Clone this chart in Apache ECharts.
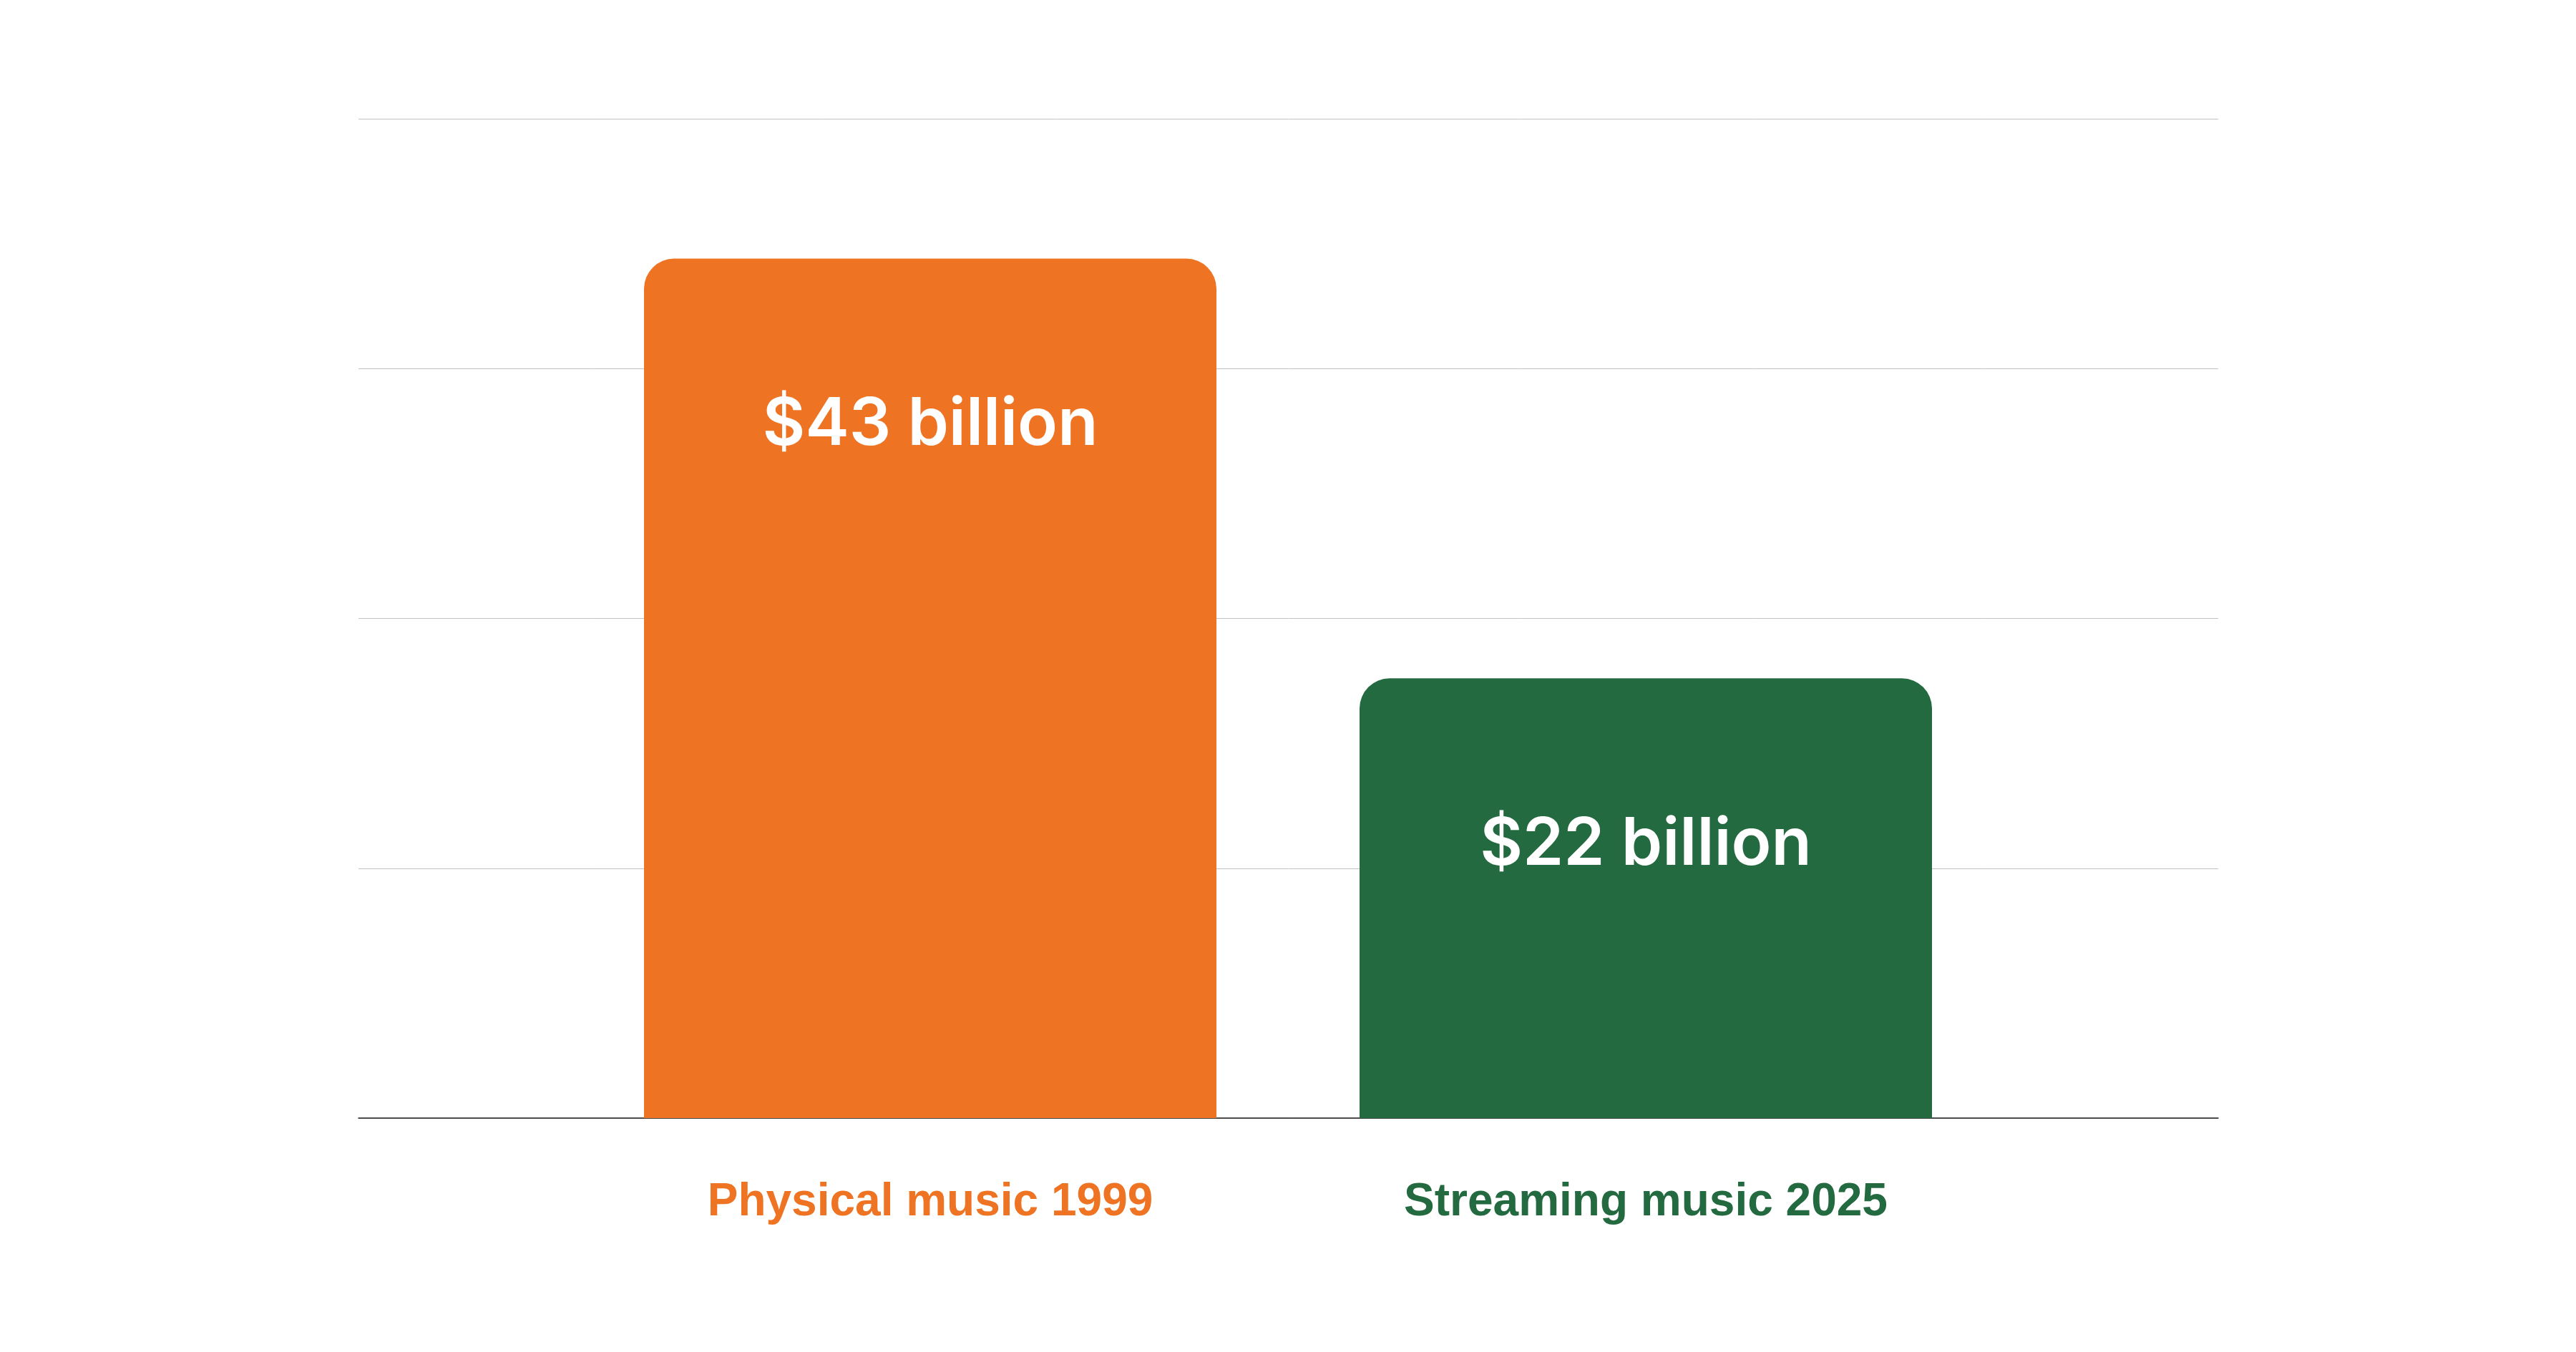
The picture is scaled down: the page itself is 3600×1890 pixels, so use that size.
<!DOCTYPE html>
<html>
<head>
<meta charset="utf-8">
<title>Music revenue</title>
<script src="https://cdn.jsdelivr.net/npm/echarts@6/dist/echarts.min.js"></script>
<style>
  html, body { margin: 0; padding: 0; background: #fff; }
  #chart { width: 3600px; height: 1890px; }
</style>
</head>
<body>
<div id="chart"></div>
<script>
// chart data
const categories = ["Physical music 1999", "Streaming music 2025"];
const revenue = [43, 22]; // billions of dollars
const valueLabels = ["$43 billion", "$22 billion"];
const barColors = ["#EE7424", "#246A40"];
const yMin = 0;
const yMax = 50;
const yInterval = 12.5;

const chartDom = document.getElementById("chart");
const myChart = echarts.init(chartDom, null, { renderer: "canvas" });

const barData = revenue.map((v, i) => ({
  value: v,
  itemStyle: { color: barColors[i] },
  label: { formatter: valueLabels[i] }
}));

const option = {
  backgroundColor: "#ffffff",
  animation: false,
  grid: [
    // full width grid: gridlines + baseline
    { left: 501, right: 500, top: 166, bottom: 327 },
    // narrower grid holding the bars
    { left: 800, right: 800, top: 166, bottom: 327 }
  ],
  xAxis: [
    {
      gridIndex: 0,
      type: "value",
      min: 0,
      max: 1,
      axisLine: { show: true, lineStyle: { color: "#1e1e1e", width: 1.5 } },
      axisTick: { show: false },
      axisLabel: { show: false },
      splitLine: { show: false }
    },
    {
      gridIndex: 1,
      type: "category",
      data: categories,
      axisLine: { show: false },
      axisTick: { show: false },
      axisLabel: {
        margin: 86,
        fontFamily: "Liberation Sans",
        fontWeight: "bold",
        fontSize: 64,
        lineHeight: 64,
        color: (value, index) => barColors[index]
      }
    }
  ],
  yAxis: [
    {
      gridIndex: 0,
      type: "value",
      min: yMin,
      max: yMax,
      interval: yInterval,
      axisLine: { show: false },
      axisTick: { show: false },
      axisLabel: { show: false },
      splitLine: { show: true, lineStyle: { color: "#c2c2c2", width: 1 } }
    },
    {
      gridIndex: 1,
      type: "value",
      min: yMin,
      max: yMax,
      interval: yInterval,
      show: false
    }
  ],
  series: [
    {
      type: "bar",
      xAxisIndex: 1,
      yAxisIndex: 1,
      barWidth: "80%",
      data: barData,
      itemStyle: { borderRadius: [42, 42, 0, 0] },
      label: {
        show: true,
        position: ["50%", 233],
        align: "center",
        verticalAlign: "middle",
        color: "#ffffff",
        fontFamily: "Inter",
        fontWeight: 600,
        fontSize: 92
      }
    }
  ]
};

myChart.setOption(option);
window.addEventListener("resize", () => myChart.resize());
</script>
</body>
</html>
